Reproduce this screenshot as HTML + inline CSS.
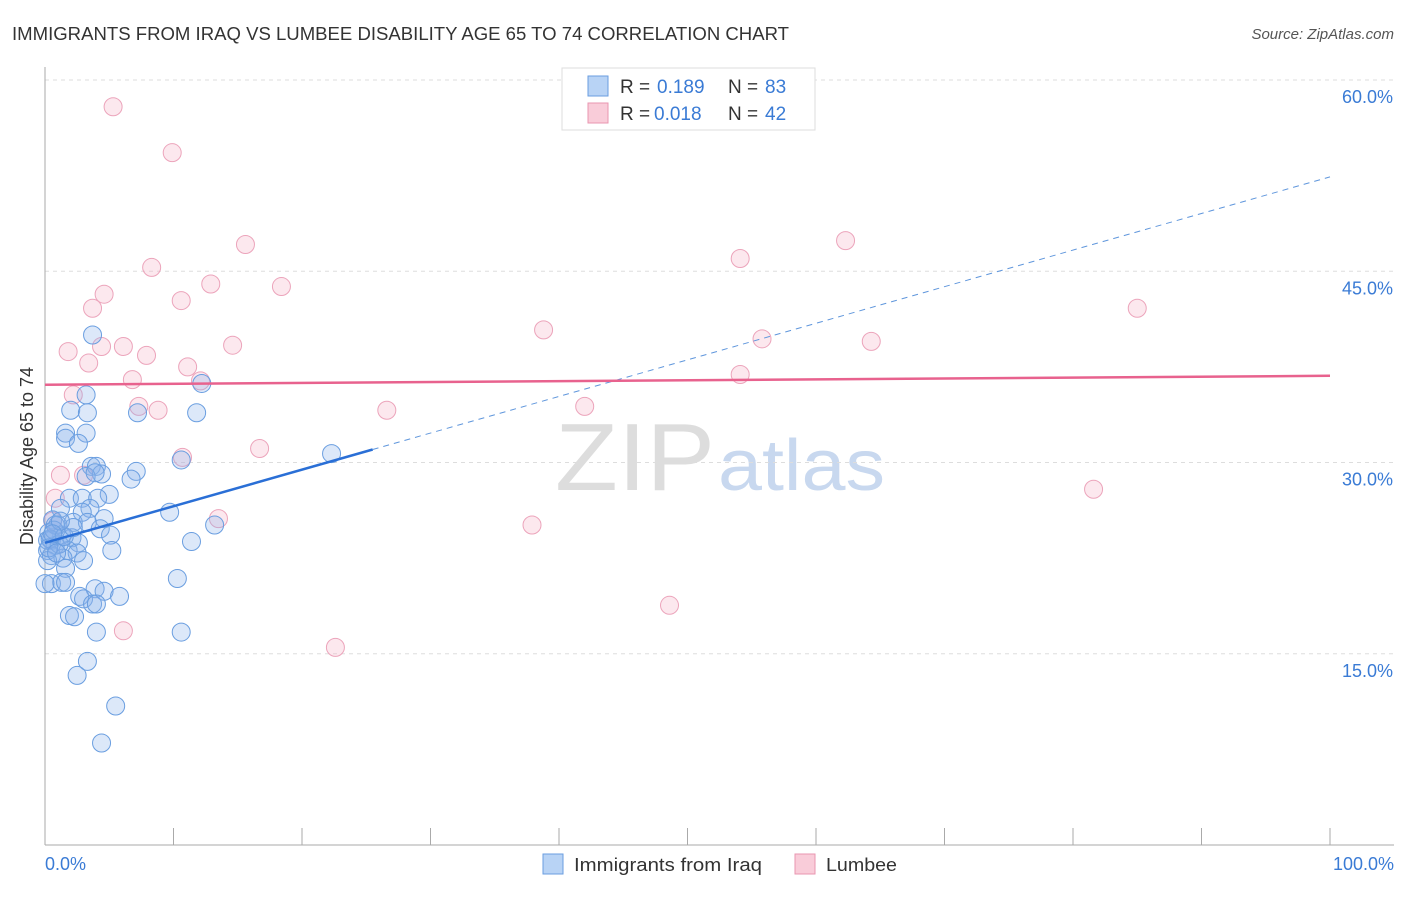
<!DOCTYPE html>
<html><head><meta charset="utf-8"><style>
body{margin:0;background:#fff;font-family:"Liberation Sans",sans-serif;}
svg text{font-family:"Liberation Sans",sans-serif;}
</style></head><body>
<svg id="chart" width="1406" height="892">
<text x="12" y="40" font-size="18" fill="#333" textLength="777" lengthAdjust="spacingAndGlyphs">IMMIGRANTS FROM IRAQ VS LUMBEE DISABILITY AGE 65 TO 74 CORRELATION CHART</text>
<text x="1394" y="39" font-size="15" fill="#555" font-style="italic" text-anchor="end">Source: ZipAtlas.com</text>
<text x="555" y="490" font-size="96" fill="#ddd" textLength="160" lengthAdjust="spacingAndGlyphs" font-family="Liberation Serif">ZIP</text>
<text x="718" y="490" font-size="72" fill="#c8d8ef" textLength="167" lengthAdjust="spacingAndGlyphs">atlas</text>
<g id="grid"></g><g id="axes"></g><g id="pts"></g><g id="trend"></g>
<text transform="translate(33,456) rotate(-90)" font-size="18" fill="#333" text-anchor="middle">Disability Age 65 to 74</text>
<text x="45" y="870" font-size="18" fill="#3a7bd5">0.0%</text>
<text x="1394" y="870" font-size="18" fill="#3a7bd5" text-anchor="end">100.0%</text>
<g>
<rect x="562" y="68" width="253" height="62" fill="#fff" stroke="#ddd"/>
<rect x="588" y="76" width="20" height="20" fill="#b8d3f5" stroke="#6a9ee0"/>
<text x="620" y="93" font-size="19" fill="#333">R =</text>
<text x="657" y="93" font-size="19" fill="#3a7bd5">0.189</text>
<text x="728" y="93" font-size="19" fill="#333">N =</text>
<text x="765" y="93" font-size="19" fill="#3a7bd5">83</text>
<rect x="588" y="103" width="20" height="20" fill="#f9ccd9" stroke="#e996b0"/>
<text x="620" y="120" font-size="19" fill="#333">R =</text>
<text x="654" y="120" font-size="19" fill="#3a7bd5">0.018</text>
<text x="728" y="120" font-size="19" fill="#333">N =</text>
<text x="765" y="120" font-size="19" fill="#3a7bd5">42</text>
</g>
<g>
<rect x="543" y="854" width="20" height="20" fill="#b8d3f5" stroke="#6a9ee0"/>
<text x="574" y="871" font-size="18" fill="#333" textLength="188" lengthAdjust="spacingAndGlyphs">Immigrants from Iraq</text>
<rect x="795" y="854" width="20" height="20" fill="#f9ccd9" stroke="#e996b0"/>
<text x="826" y="871" font-size="18" fill="#333" textLength="71" lengthAdjust="spacingAndGlyphs">Lumbee</text>
</g>
</svg>
<script>
const yTicks=[15,30,45,60];
const yTickLabels=["15.0%","30.0%","45.0%","60.0%"];
const xTicks=[0,10,20,30,40,50,60,70,80,90,100];
const blueX=[3.7,12.2,3.2,2.0,3.3,7.2,11.8,1.6,3.2,1.6,2.6,22.3,10.6,3.6,4.0,7.1,4.4,3.2,3.9,6.7,5.0,1.9,2.9,4.1,1.2,3.5,2.9,9.7,4.6,2.2,3.3,0.6,1.0,13.2,4.3,0.3,1.3,5.1,2.1,0.5,2.6,0.8,11.4,1.8,0.2,5.2,2.5,0.5,1.4,3.0,0.2,1.6,10.3,0.5,1.3,1.6,3.9,4.6,2.7,3.0,5.8,3.7,4.0,1.9,2.3,4.0,10.6,3.3,2.5,5.5,4.4,0,0.2,0.8,0.4,1.1,0.7,1.5,0.3,2.2,0.9,1.2,0.6];
const blueY=[40.0,36.2,35.3,34.1,33.9,33.9,33.9,32.3,32.3,31.9,31.5,30.7,30.2,29.7,29.7,29.3,29.1,28.9,29.2,28.7,27.5,27.2,27.2,27.2,26.4,26.4,26.1,26.1,25.6,25.3,25.3,25.5,25.1,25.1,24.8,24.5,24.3,24.3,24.1,23.9,23.7,23.5,23.8,23.1,23.1,23.1,22.9,22.7,22.5,22.3,22.3,21.7,20.9,20.5,20.6,20.6,20.1,19.9,19.5,19.3,19.5,18.9,18.9,18.0,17.9,16.7,16.7,14.4,13.3,10.9,8.0,20.5,23.9,25.1,24.0,23.6,24.7,24.2,23.3,24.9,22.9,25.4,24.4];
const pinkX=[5.3,9.9,15.6,8.3,12.9,18.4,10.6,4.6,3.7,1.8,6.1,4.4,14.6,7.9,3.4,11.1,6.8,12.1,2.2,7.3,8.8,26.6,38.8,42.0,54.1,62.3,55.8,64.3,54.1,85.0,81.6,16.7,10.7,1.2,3.0,0.8,13.5,37.9,48.6,6.1,22.6,0.6];
const pinkY=[57.9,54.3,47.1,45.3,44.0,43.8,42.7,43.2,42.1,38.7,39.1,39.1,39.2,38.4,37.8,37.5,36.5,36.4,35.3,34.4,34.1,34.1,40.4,34.4,46.0,47.4,39.7,39.5,36.9,42.1,27.9,31.1,30.4,29.0,29.0,27.2,25.6,25.1,18.8,16.8,15.5,25.4];
const blueTrend=[23.7,52.4];
const pinkTrend=[36.1,36.8];
const blueSolidEnd=25.5;
const NS="http://www.w3.org/2000/svg";
const X=v=>45+v*12.85, Y=v=>845-v*12.75;
function mk(t,a,p){const e=document.createElementNS(NS,t);for(const k in a)e.setAttribute(k,a[k]);document.getElementById(p).appendChild(e);return e;}
yTicks.forEach((t,i)=>{
 const g=mk('line',{x1:45,x2:1394,y1:Y(t),y2:Y(t),stroke:'#ddd','stroke-dasharray':'4,4'},'grid');
 
 
 const l=mk('text',{x:1393,y:Y(t)+23,'font-size':18,fill:'#3a7bd5','text-anchor':'end'},'grid');
 l.textContent=yTickLabels[i];
 
 
});
mk('line',{x1:45,x2:45,y1:67,y2:845,stroke:'#aaa'},'axes');
mk('line',{x1:45,x2:1394,y1:845,y2:845,stroke:'#aaa'},'axes');
xTicks.forEach(t=>{const e=mk('line',{x1:X(t),x2:X(t),y1:828,y2:845,stroke:'#aaa'},'axes');
 
 });
pinkX.forEach((x,i)=>{const c=mk('circle',{cx:X(x),cy:Y(pinkY[i]),r:9,fill:'rgba(246,180,200,0.3)',stroke:'#eca4bb','stroke-width':1},'pts');
 
 });
blueX.forEach((x,i)=>{const c=mk('circle',{cx:X(x),cy:Y(blueY[i]),r:9,fill:'rgba(140,180,235,0.3)',stroke:'#6a9ee0','stroke-width':1},'pts');
 
 });
const bAt=x=>blueTrend[0]+(blueTrend[1]-blueTrend[0])*x/100;
const pAt=x=>pinkTrend[0]+(pinkTrend[1]-pinkTrend[0])*x/100;
let e=mk('line',{x1:X(0),y1:Y(bAt(0)),x2:X(blueSolidEnd),y2:Y(bAt(blueSolidEnd)),stroke:'#2a6fd6','stroke-width':2.5},'trend');


e=mk('line',{x1:X(blueSolidEnd),y1:Y(bAt(blueSolidEnd)),x2:X(100),y2:Y(bAt(100)),stroke:'#5f96dc','stroke-width':1,'stroke-dasharray':'6,5'},'trend');


e=mk('line',{x1:X(0),y1:Y(pAt(0)),x2:X(100),y2:Y(pAt(100)),stroke:'#e8628e','stroke-width':2.5},'trend');


</script>
</body></html>
